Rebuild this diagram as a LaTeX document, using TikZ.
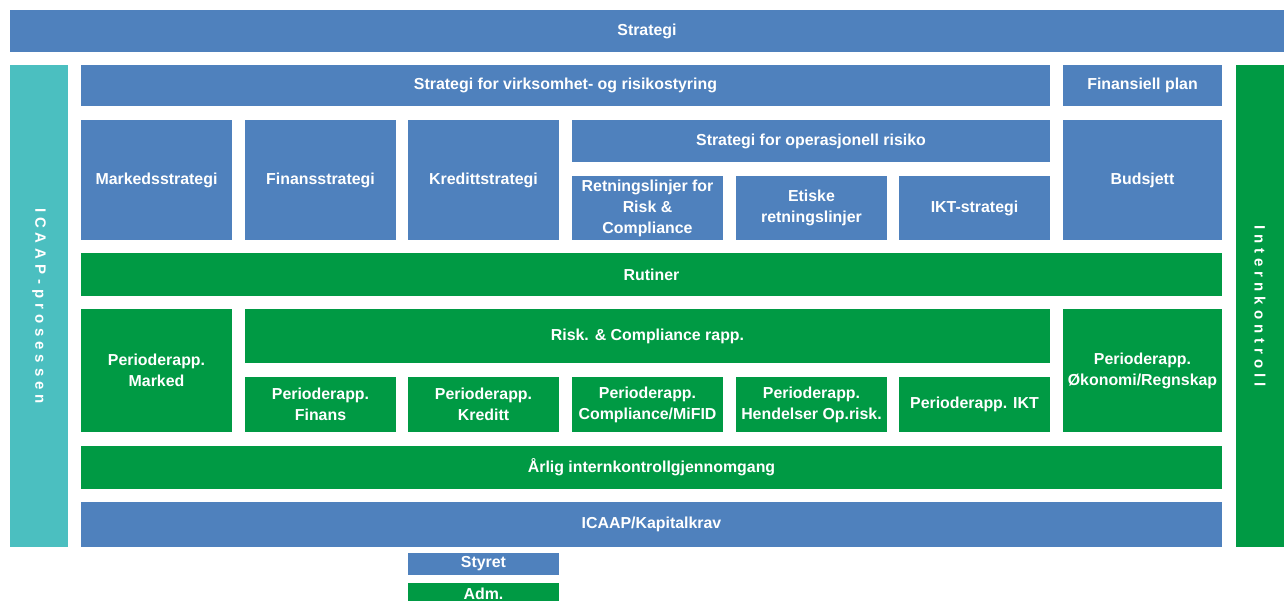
\documentclass[tikz,border=0pt]{standalone}
\usepackage{fontspec}
\setmainfont{Liberation Sans}
\usepackage{tikz}
\definecolor{bankblue}{RGB}{79,129,189}
\definecolor{bankgreen}{RGB}{0,154,68}
\definecolor{bankteal}{RGB}{75,191,192}

\begin{document}
\begin{tikzpicture}[x=1pt, y=-1pt,
    cell/.style={inner sep=0pt, text=white, align=center, font=\fontsize{15.9}{21}\selectfont\bfseries},
    small/.style={cell, minimum width=151pt},
    wide/.style={cell, minimum width=159pt},
    side/.style={inner sep=0pt, minimum width=482pt, text=white, rotate=-90,
        font=\fontsize{15}{17}\selectfont\bfseries\addfontfeature{LetterSpace=33}}
]
\clip (0,0) rectangle (1284,600);

% top and side bars
\node[cell, fill=bankblue, minimum width=1274pt, minimum height=42pt] (strategi) at (647,31) {Strategi};
\node[side, fill=bankteal, minimum height=58pt] (icaap) at (39,306) {ICAAP-prosessen};
\node[side, fill=bankgreen, minimum height=48pt] (intern) at (1260,306) {Internkontroll};

% strategy level
\node[cell, fill=bankblue, minimum width=969pt, minimum height=41pt] (virk) at (565.5,85.5) {Strategi for virksomhet- og risikostyring};
\node[wide, fill=bankblue, minimum height=41pt] (finplan) at (1142.5,85.5) {Finansiell plan};
\node[small, fill=bankblue, minimum height=120pt] (marked) at (156.5,180) {Markedsstrategi};
\node[small, fill=bankblue, minimum height=120pt] (finans) at (320.5,180) {Finansstrategi};
\node[small, fill=bankblue, minimum height=120pt] (kreditt) at (483.5,180) {Kredittstrategi};
\node[cell, fill=bankblue, minimum width=478pt, minimum height=42pt] (oprisk) at (811,141) {Strategi for operasjonell risiko};
\node[small, fill=bankblue, minimum height=64pt] (retn) at (647.5,208) {Retningslinjer for\\Risk \&\\Compliance};
\node[small, fill=bankblue, minimum height=64pt] (etiske) at (811.5,208) {Etiske\\retningslinjer};
\node[small, fill=bankblue, minimum height=64pt] (ikt) at (974.5,208) {IKT-strategi};
\node[wide, fill=bankblue, minimum height=120pt] (budsjett) at (1142.5,180) {Budsjett};

% control level
\node[cell, fill=bankgreen, minimum width=1141pt, minimum height=43pt] (rutiner) at (651.5,274.5) {Rutiner};
\node[small, fill=bankgreen, minimum height=123pt] (pmarked) at (156.5,370.5) {Perioderapp.\\Marked};
\node[cell, fill=bankgreen, minimum width=805pt, minimum height=54pt] (riskrapp) at (647.5,336) {Risk. \& Compliance rapp.};
\node[small, fill=bankgreen, minimum height=55pt] (pfinans) at (320.5,404.5) {Perioderapp.\\Finans};
\node[small, fill=bankgreen, minimum height=55pt] (pkreditt) at (483.5,404.5) {Perioderapp.\\Kreditt};
\node[small, fill=bankgreen, minimum height=55pt] (pcompl) at (647.5,404.5) {Perioderapp.\\Compliance/MiFID};
\node[small, fill=bankgreen, minimum height=55pt] (phend) at (811.5,404.5) {Perioderapp.\\Hendelser Op.risk.};
\node[small, fill=bankgreen, minimum height=55pt] (pikt) at (974.5,404.5) {Perioderapp. IKT};
\node[wide, fill=bankgreen, minimum height=123pt] (pokonomi) at (1142.5,370.5) {Perioderapp.\\Økonomi/Regnskap};
\node[cell, fill=bankgreen, minimum width=1141pt, minimum height=43pt] (arlig) at (651.5,467.5) {Årlig internkontrollgjennomgang};
\node[cell, fill=bankblue, minimum width=1141pt, minimum height=45pt] (kapital) at (651.5,524.5) {ICAAP/Kapitalkrav};

% legend
\node[small, fill=bankblue, minimum height=22pt] (styret) at (483.5,564) {Styret};
\node[small, fill=bankgreen, minimum height=22pt] (adm) at (483.5,594) {Adm.};
\end{tikzpicture}
\end{document}
